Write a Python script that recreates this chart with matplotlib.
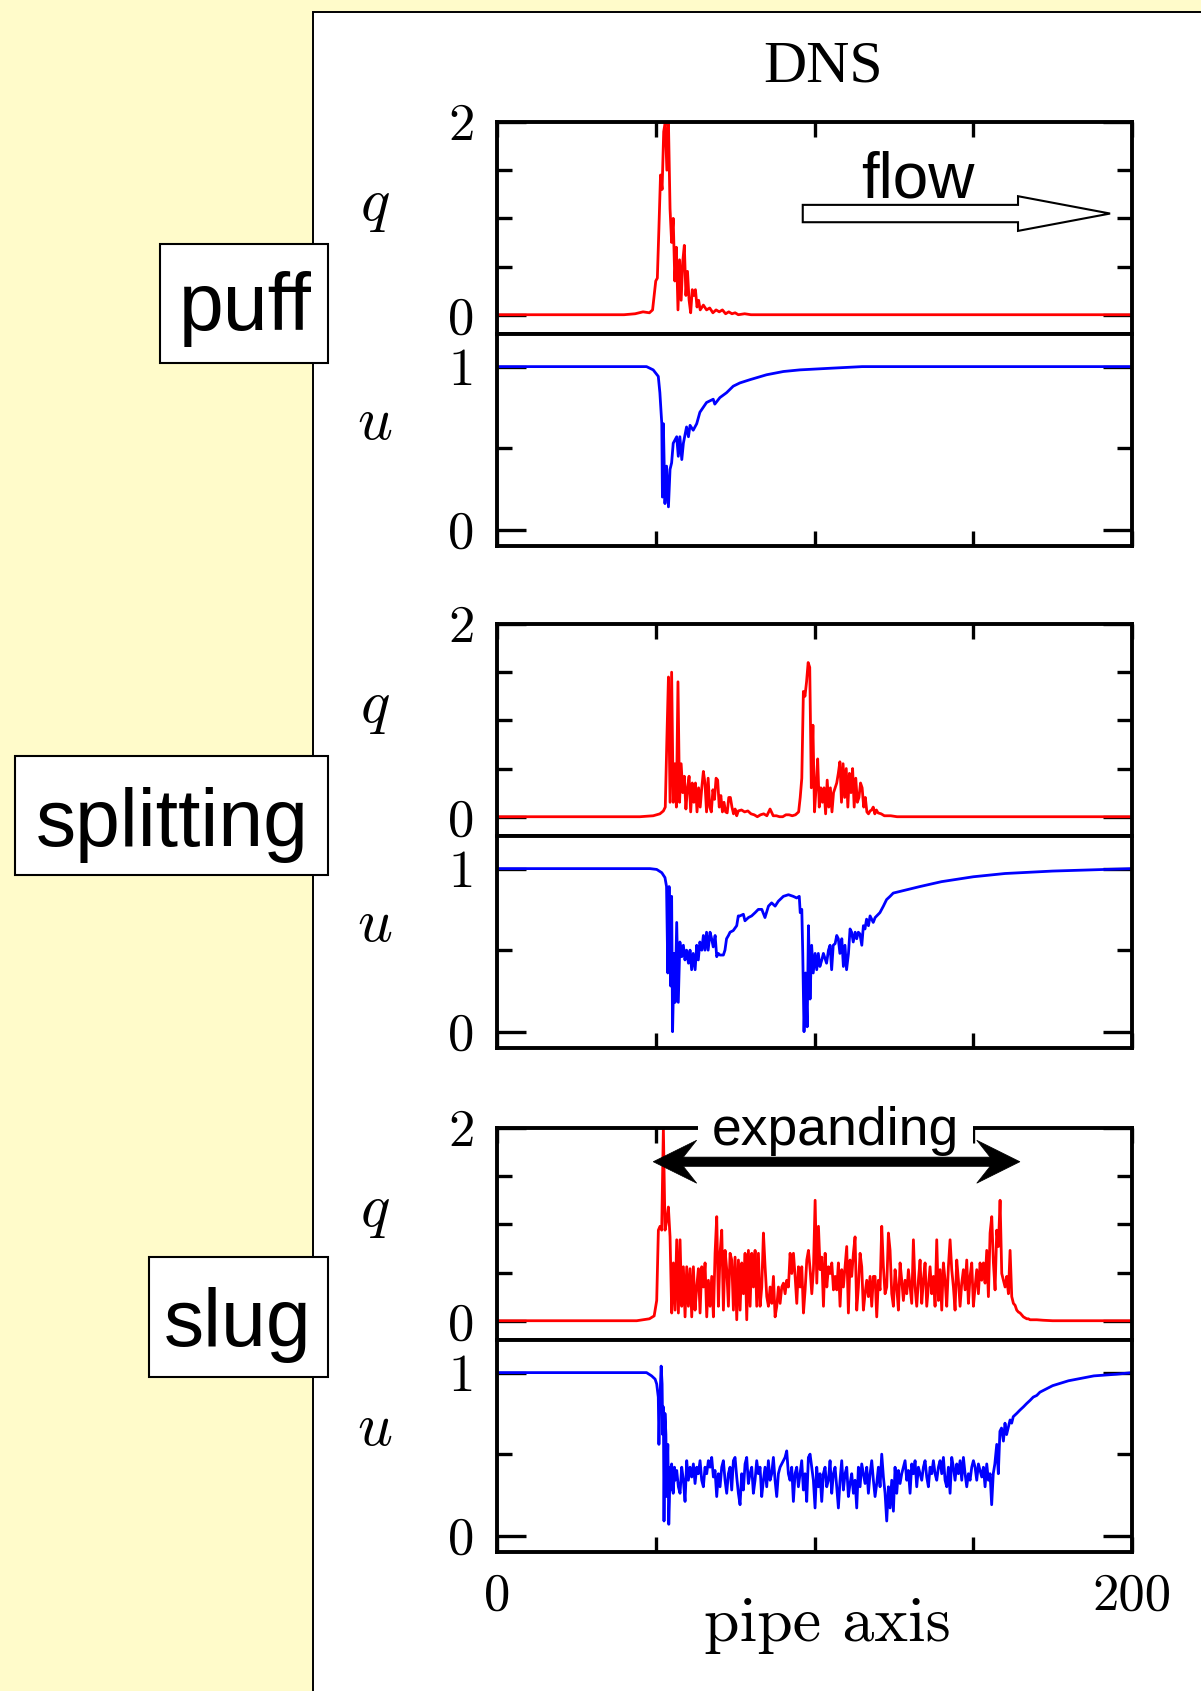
import numpy as np
import matplotlib
matplotlib.use("Agg")
import matplotlib.pyplot as plt
from matplotlib.patches import Rectangle, FancyArrow, Polygon

# values along the pipe axis, read off the three DNS snapshots
# ---- puff ----
puff_q_x = [0, 40, 43.5, 46, 48, 49, 49.5, 50, 50.5, 51, 51.5, 52, 52.5, 53, 53.5,
            54, 54.5, 55, 55.5, 56, 56.5, 57, 57.5, 58, 58.5, 59, 59.5, 60, 60.5,
            61, 61.5, 62, 62.5, 63, 63.5, 64, 65, 66, 67, 68, 69, 70, 71, 72, 73,
            74, 75, 76, 78, 80, 82, 200]
puff_q = [0, 0, 0.01, 0.03, 0.02, 0.05, 0.2, 0.35, 0.38, 0.9, 1.45, 1.3, 1.9, 2.0, 1.5,
          2.0, 1.1, 0.75, 1.0, 0.35, 0.7, 0.05, 0.57, 0.15, 0.55, 0.72, 0.2, 0.45, 0.15,
          0.02, 0.26, 0.2, 0.26, 0.08, 0.15, 0.05, 0.1, 0.05, 0.07, 0.02, 0.05, 0.03,
          0.05, 0.01, 0.03, 0.01, 0.02, 0.0, 0.01, 0, 0, 0]
puff_u_x = [0, 45, 47.1, 49.2, 50.8, 51.3, 51.9, 52.1, 52.4, 52.9, 53.4, 54.0, 54.5,
            55.0, 55.5, 56.6, 57.1, 57.6, 58.2, 58.7, 59.7, 60.3, 60.8, 61.8, 62.9,
            63.9, 66.0, 68.1, 68.6, 70.2, 72.3, 74.4, 76.5, 79.7, 84.9, 90.2, 95.4,
            105, 115, 200]
puff_u = [1.0, 1.0, 1.0, 0.98, 0.94, 0.84, 0.65, 0.2, 0.65, 0.16, 0.39, 0.14, 0.37,
          0.41, 0.53, 0.57, 0.45, 0.57, 0.43, 0.53, 0.63, 0.57, 0.64, 0.61, 0.65,
          0.72, 0.78, 0.8, 0.77, 0.81, 0.84, 0.88, 0.9, 0.92, 0.95, 0.97, 0.98,
          0.99, 1.0, 1.0]

# ---- splitting ----
split_q_lead_x = [0, 45, 49.2, 51.3, 52.4]
split_q_lead = [0, 0, 0.01, 0.03, 0.06]
# x = 53.0 ... 76.0 every 0.5
split_q_a = [0.1, 0.8, 1.45, 0.15, 1.5, 0.15, 0.55, 0.1, 1.4, 0.15, 0.55, 0.25, 0.42,
             0.08, 0.3, 0.42, 0.05, 0.35, 0.15, 0.35, 0.05, 0.3, 0.1, 0.3, 0.47, 0.35,
             0.05, 0.4, 0.1, 0.05, 0.28, 0.18, 0.4, 0.38, 0.1, 0.22, 0.05, 0.15, 0.05,
             0.04, 0.2, 0.2, 0.1, 0.03, 0.08, 0.01, 0.06]
# x = 77 ... 94 every 1
split_q_mid = [0.07, 0.05, 0.06, 0.03, 0.02, 0.0, 0.02, 0.03, 0.01, 0.08, 0.01, 0.01,
               0.0, 0.0, 0.02, 0.02, 0.01, 0.02]
# x = 95.0 ... 120.0 every 0.5
split_q_b = [0.05, 0.2, 0.4, 1.3, 1.25, 1.4, 1.6, 1.55, 0.3, 0.95, 0.05, 0.3, 0.6, 0.1,
             0.3, 0.15, 0.3, 0.03, 0.38, 0.1, 0.3, 0.05, 0.25, 0.3, 0.35, 0.45, 0.57,
             0.15, 0.55, 0.2, 0.5, 0.1, 0.45, 0.25, 0.5, 0.1, 0.4, 0.15, 0.2, 0.35, 0.3,
             0.1, 0.2, 0.05, 0.03, 0.06, 0.07, 0.1, 0.03, 0.07, 0.04]
split_q_tail_x = [121, 122, 124, 126, 200]
split_q_tail = [0.03, 0.01, 0.01, 0.0, 0.0]

split_u_x = [0, 48.2, 50.3, 51.9, 52.9, 53.4, 53.8, 54.2, 54.7, 55.0,
             55.3, 55.8, 56.1, 56.6, 57.1, 57.6, 58.2, 58.7, 59.2, 59.7,
             60.3, 60.8, 61.3, 61.8, 62.4, 62.9, 63.4, 63.9, 64.5, 65.0,
             65.5, 66.0, 66.5, 67.1, 67.6, 68.1, 68.7, 69.2, 69.7, 70.2,
             71.3, 71.8, 72.3, 72.9, 73.4, 74.4, 75.5, 76.0, 76.5, 77.6,
             78.1, 79.2, 80.2, 81.3, 82.3, 83.4, 84.4, 85.5, 86.5, 87.6,
             88.6, 90.2, 91.8, 93.3, 94.4, 95.2, 95.5, 96.0, 96.3, 96.7,
             97.2, 97.7, 98.1, 98.6, 99.1, 99.6, 100.2, 100.7, 101.2, 101.7,
             102.3, 102.8, 103.8, 104.4, 104.9, 105.4, 105.9, 106.5, 107.0, 107.5,
             108.0, 108.6, 109.1, 109.6, 110.1, 110.7, 111.2, 111.7, 112.2, 112.8,
             113.3, 113.8, 114.3, 114.9, 115.4, 115.9, 116.4, 117.0, 117.5, 118.5,
             119.1, 119.6, 120.6, 121.7, 122.7, 123.8, 124.8, 126.9, 129.0, 131.1,
             133.2, 140, 150, 160, 175, 200]
split_u = [1.0, 1.0, 0.995, 0.975, 0.945, 0.89, 0.36, 0.89, 0.28, 0.83,
           0.0, 0.48, 0.18, 0.67, 0.18, 0.55, 0.46, 0.53, 0.44, 0.5,
           0.42, 0.5, 0.38, 0.48, 0.38, 0.53, 0.44, 0.55, 0.5, 0.59,
           0.5, 0.61, 0.5, 0.61, 0.57, 0.52, 0.59, 0.46, 0.48, 0.47,
           0.47, 0.5, 0.57, 0.59, 0.61, 0.62, 0.65, 0.71, 0.71, 0.72,
           0.68, 0.7, 0.71, 0.73, 0.75, 0.75, 0.7, 0.77, 0.79, 0.77,
           0.8, 0.83, 0.84, 0.83, 0.82, 0.83, 0.73, 0.75, 0.48, 0.0,
           0.36, 0.03, 0.65, 0.2, 0.53, 0.36, 0.48, 0.38, 0.48, 0.4,
           0.44, 0.48, 0.42, 0.5, 0.53, 0.38, 0.53, 0.54, 0.59, 0.57,
           0.48, 0.57, 0.4, 0.53, 0.38, 0.48, 0.63, 0.61, 0.55, 0.61,
           0.57, 0.61, 0.6, 0.53, 0.65, 0.63, 0.69, 0.65, 0.71, 0.67,
           0.7, 0.71, 0.73, 0.77, 0.81, 0.83, 0.85, 0.86, 0.87, 0.88,
           0.89, 0.92, 0.95, 0.97, 0.985, 1.0]

# ---- slug ----
slug_q_lead_x = [0, 44, 46, 48, 49.5]
slug_q_lead = [0, 0, 0.01, 0.02, 0.05]
# x = 50.3 ... 106.5, evenly sampled
slug_q_a = [0.21, 0.94, 0.98, 0.94, 2.0, 0.94, 1.04, 1.18, 0.87, 0.08,
            0.6, 0.11, 0.84, 0.08, 0.84, 0.15, 0.56, 0.04, 0.56, 0.15,
            0.54, 0.04, 0.56, 0.11, 0.35, 0.54, 0.08, 0.56, 0.35, 0.6,
            0.04, 0.42, 0.15, 0.46, 0.04, 0.7, 1.08, 0.15, 0.7, 0.94,
            0.11, 0.73, 0.53, 0.15, 0.7, 0.63, 0.11, 0.66, 0.01, 0.63,
            0.11, 0.6, 0.28, 0.7, 0.01, 0.73, 0.15, 0.7, 0.35, 0.73,
            0.15, 0.7, 0.15, 0.35, 0.91, 0.56, 0.25, 0.15, 0.35, 0.18,
            0.46, 0.04, 0.15, 0.35, 0.18, 0.35, 0.39, 0.28, 0.42, 0.35,
            0.7, 0.49, 0.7, 0.46, 0.18, 0.56, 0.35, 0.56, 0.08, 0.32,
            0.63, 0.73, 0.53, 0.28, 0.53, 1.25, 0.39, 0.98, 0.53, 0.66,
            0.15, 0.7, 0.35, 0.56, 0.49, 0.6, 0.32, 0.46]
# x = 107.0 ... 167.9, evenly sampled
slug_q_b = [0.32, 0.6, 0.15, 0.53, 0.35, 0.56, 0.77, 0.08, 0.63, 0.46,
            0.7, 0.87, 0.11, 0.35, 0.7, 0.56, 0.11, 0.28, 0.42, 0.25,
            0.46, 0.15, 0.46, 0.46, 0.04, 0.42, 0.32, 0.98, 0.56, 0.28,
            0.35, 0.91, 0.73, 0.28, 0.15, 0.53, 0.35, 0.11, 0.6, 0.42,
            0.21, 0.42, 0.28, 0.53, 0.35, 0.18, 0.84, 0.35, 0.15, 0.42,
            0.63, 0.18, 0.42, 0.6, 0.15, 0.35, 0.56, 0.28, 0.46, 0.15,
            0.84, 0.21, 0.53, 0.11, 0.6, 0.42, 0.15, 0.56, 0.84, 0.53,
            0.35, 0.11, 0.63, 0.42, 0.15, 0.39, 0.53, 0.32, 0.63, 0.18,
            0.46, 0.6, 0.15, 0.35, 0.53, 0.28, 0.6, 0.42, 0.6, 0.39,
            0.73, 0.25, 0.91, 1.08, 0.6, 0.32, 0.94, 0.77, 1.25, 0.49,
            0.42, 0.35, 0.46, 0.28, 0.73, 0.25, 0.18, 0.16, 0.11, 0.09,
            0.08, 0.06, 0.04, 0.03, 0.02, 0.02, 0.01]
slug_q_tail_x = [170, 172, 175, 200]
slug_q_tail = [0.01, 0.005, 0.0, 0.0]

slug_u_lead_x = [0, 45.0, 47.1, 48.7, 49.8, 50.3, 50.8, 51.0, 51.3, 51.7, 52.0, 52.2,
                 52.4, 52.6, 52.9, 53.2, 53.4, 53.8, 54.1, 54.3, 54.5, 54.8, 55.0,
                 55.3, 55.5, 55.9, 56.1]
slug_u_lead = [1.0, 1.0, 1.0, 0.98, 0.96, 0.93, 0.85, 0.56, 0.83, 1.04, 0.93, 0.62,
               0.79, 0.09, 0.75, 0.62, 0.24, 0.56, 0.07, 0.21, 0.42, 0.28, 0.44,
               0.34, 0.26, 0.42, 0.34]
# x = 56.6 ... 155.3, evenly sampled
slug_u_mid = [0.40, 0.30, 0.26, 0.42, 0.34, 0.21, 0.46, 0.34, 0.42, 0.36,
              0.44, 0.32, 0.42, 0.38, 0.46, 0.34, 0.30, 0.42, 0.38, 0.46,
              0.42, 0.48, 0.36, 0.40, 0.24, 0.38, 0.30, 0.42, 0.46, 0.34,
              0.26, 0.38, 0.42, 0.28, 0.46, 0.48, 0.36, 0.26, 0.19, 0.38,
              0.28, 0.44, 0.48, 0.32, 0.38, 0.42, 0.26, 0.34, 0.46, 0.38,
              0.42, 0.24, 0.34, 0.42, 0.30, 0.46, 0.34, 0.38, 0.48, 0.34,
              0.24, 0.38, 0.42, 0.44, 0.46, 0.48, 0.52, 0.38, 0.34, 0.42,
              0.21, 0.38, 0.42, 0.30, 0.38, 0.46, 0.28, 0.38, 0.21, 0.48,
              0.50, 0.42, 0.34, 0.17, 0.42, 0.30, 0.38, 0.21, 0.38, 0.42,
              0.30, 0.34, 0.46, 0.26, 0.38, 0.42, 0.30, 0.17, 0.34, 0.46,
              0.28, 0.38, 0.42, 0.24, 0.32, 0.38, 0.26, 0.34, 0.17, 0.42,
              0.30, 0.44, 0.38, 0.32, 0.42, 0.26, 0.38, 0.46, 0.34, 0.24,
              0.32, 0.42, 0.30, 0.50, 0.36, 0.26, 0.09, 0.30, 0.17, 0.34,
              0.15, 0.42, 0.26, 0.40, 0.32, 0.38, 0.42, 0.46, 0.34, 0.40,
              0.26, 0.44, 0.38, 0.46, 0.30, 0.42, 0.38, 0.34, 0.42, 0.46,
              0.36, 0.30, 0.42, 0.38, 0.46, 0.38, 0.34, 0.42, 0.46, 0.38,
              0.48, 0.34, 0.30, 0.42, 0.26, 0.48, 0.42, 0.34, 0.44, 0.38,
              0.46, 0.34, 0.48, 0.38, 0.30, 0.38, 0.34, 0.42, 0.46, 0.42,
              0.34, 0.44, 0.40, 0.36, 0.42, 0.30, 0.44, 0.34, 0.38]
slug_u_tail_x = [155.8, 156.3, 156.8, 157.4, 157.9, 158.4, 158.9, 159.5, 160.0, 160.5,
                 161.0, 161.6, 162.1, 162.6, 163.7, 164.7, 165.8, 166.8, 167.9, 168.9,
                 170.0, 171.0, 175, 180, 188, 195, 200]
slug_u_tail = [0.19, 0.38, 0.44, 0.56, 0.38, 0.64, 0.66, 0.58, 0.69, 0.62,
               0.66, 0.71, 0.69, 0.73, 0.75, 0.77, 0.79, 0.81, 0.83, 0.85,
               0.86, 0.88, 0.92, 0.95, 0.98, 0.99, 1.0]

split_q_x = np.concatenate([split_q_lead_x, np.arange(53.0, 76.01, 0.5),
                            np.arange(77, 94.1, 1), np.arange(95.0, 120.01, 0.5),
                            split_q_tail_x])
split_q = np.concatenate([split_q_lead, split_q_a, split_q_mid, split_q_b, split_q_tail])
slug_q_x = np.concatenate([slug_q_lead_x, np.linspace(50.3, 106.5, len(slug_q_a)),
                           np.linspace(107.0, 167.9, len(slug_q_b)), slug_q_tail_x])
slug_q = np.concatenate([slug_q_lead, slug_q_a, slug_q_b, slug_q_tail])
slug_u_x = np.concatenate([slug_u_lead_x, np.linspace(56.6, 155.3, len(slug_u_mid)),
                           slug_u_tail_x])
slug_u = np.concatenate([slug_u_lead, slug_u_mid, slug_u_tail])

panels = [
    ("puff", puff_q_x, puff_q, puff_u_x, puff_u),
    ("splitting", split_q_x, split_q, split_u_x, split_u),
    ("slug", slug_q_x, slug_q, slug_u_x, slug_u),
]

plt.rcParams['mathtext.fontset'] = 'cm'

W, H = 1201, 1691
fig = plt.figure(figsize=(W / 100, H / 100), dpi=100)
fig.patch.set_facecolor('#fffbca')

def fx(x):
    return x / W

def fy(y):
    return 1 - y / H

# white sheet behind the plots
fig.add_artist(Rectangle((fx(313), -0.05), 1.0, fy(12) + 0.05, transform=fig.transFigure,
                         facecolor='white', edgecolor='black', lw=1.4, zorder=-1))

fig.text(fx(823), fy(81), 'DNS', ha='center', va='baseline', fontsize=43,
         family='Liberation Serif')

left, width, ax_h = 497, 635, 212
panel_tops = [122, 624, 1128]
tick_font = dict(fontsize=38, fontfamily='cmr10')

# label boxes: (left, top, right, bottom) in pixels, text centre
boxes = [((160, 244, 328, 363), (245, 309)),
         ((15, 756, 328, 875), (172, 825)),
         ((149, 1257, 328, 1377), (238, 1325))]

axes_q = []
for i, (name, qx, qv, ux, uv) in enumerate(panels):
    top = panel_tops[i]
    axq = fig.add_axes([fx(left), fy(top + ax_h), width / W, ax_h / H])
    axu = fig.add_axes([fx(left), fy(top + 2 * ax_h), width / W, ax_h / H])
    axes_q.append(axq)

    axq.plot(qx, qv, color='#ff0000', lw=2.0)
    axu.plot(ux, uv, color='#0000ff', lw=2.0)

    for ax in (axq, axu):
        ax.set_xlim(0, 200)
        for s in ax.spines.values():
            s.set_linewidth(2.8)
        ax.tick_params(which='both', direction='in', width=2.4, left=True, right=True,
                       labelright=False, pad=16)
        ax.tick_params(axis='y', which='major', length=21)
        ax.tick_params(axis='y', which='minor', length=10.5)
        ax.tick_params(axis='x', length=10.5, pad=15)

    axq.set_ylim(-0.2, 2.0)
    axq.set_yticks([0, 2], ['0', '2'], **tick_font)
    axq.set_yticks([0.5, 1.0, 1.5], minor=True)
    axq.set_xticks([0, 50, 100, 150, 200])
    axq.tick_params(axis='x', top=True, bottom=False, labelbottom=False)

    axu.set_ylim(-0.1, 1.2)
    axu.set_yticks([0, 1], ['0', '1'], **tick_font)
    axu.set_yticks([0.5], minor=True)
    if i == 2:
        axu.set_xticks([0, 50, 100, 150, 200], ['0', '', '', '', '200'], **tick_font)
    else:
        axu.set_xticks([0, 50, 100, 150, 200])
        axu.tick_params(axis='x', labelbottom=False)
    axu.tick_params(axis='x', top=False, bottom=True)

    fig.text(fx(375), fy(top + 82), r'$q$', ha='center', va='center', fontsize=44)
    fig.text(fx(375), fy(top + 300), r'$u$', ha='center', va='center', fontsize=44)

    (bl, bt, br, bb), (tx, ty) = boxes[i]
    fig.add_artist(Rectangle((fx(bl), fy(bb)), (br - bl) / W, (bb - bt) / H,
                             transform=fig.transFigure, facecolor='white',
                             edgecolor='black', lw=1.5, zorder=4))
    fig.text(fx(tx), fy(ty), name, ha='center', va='center', fontsize=58,
             family='Liberation Sans', zorder=5)

# "flow" arrow in the puff panel
axq1 = axes_q[0]
axq1.add_patch(FancyArrow(96.3, 1.05, 96.8, 0, width=0.18, head_width=0.36,
                          head_length=29, length_includes_head=True,
                          facecolor='white', edgecolor='black', lw=1.5,
                          clip_on=False, zorder=5))
fig.text(fx(918), fy(197), 'flow', ha='center', va='baseline', fontsize=46,
         family='Liberation Sans')

# "expanding" double arrow in the slug panel
axq3 = axes_q[2]
yc, hh, sh = 1.65, 0.223, 0.048
xl, xlb, xlj = 49.2, 62.9, 58.7
xr, xrb, xrj = 164.7, 151.1, 155.3
arrow_pts = [(xl, yc), (xlb, yc + hh), (xlj, yc + sh), (xrj, yc + sh), (xrb, yc + hh),
             (xr, yc), (xrb, yc - hh), (xrj, yc - sh), (xlj, yc - sh), (xlb, yc - hh)]
axq3.add_patch(Polygon(arrow_pts, closed=True, facecolor='black', edgecolor='black',
                       lw=0.5, clip_on=False, zorder=7))
axq3.text(106.5, 1.82, 'expanding', ha='center', va='baseline', fontsize=38.5,
          family='Liberation Sans', zorder=6, clip_on=False,
          bbox=dict(boxstyle='square,pad=0.26', facecolor='white', edgecolor='none'))

fig.text(fx(827), fy(1641), 'pipe axis', ha='center', va='baseline', fontsize=46,
         family='cmr10')

fig.savefig('out.png', dpi=100, facecolor=fig.get_facecolor())
